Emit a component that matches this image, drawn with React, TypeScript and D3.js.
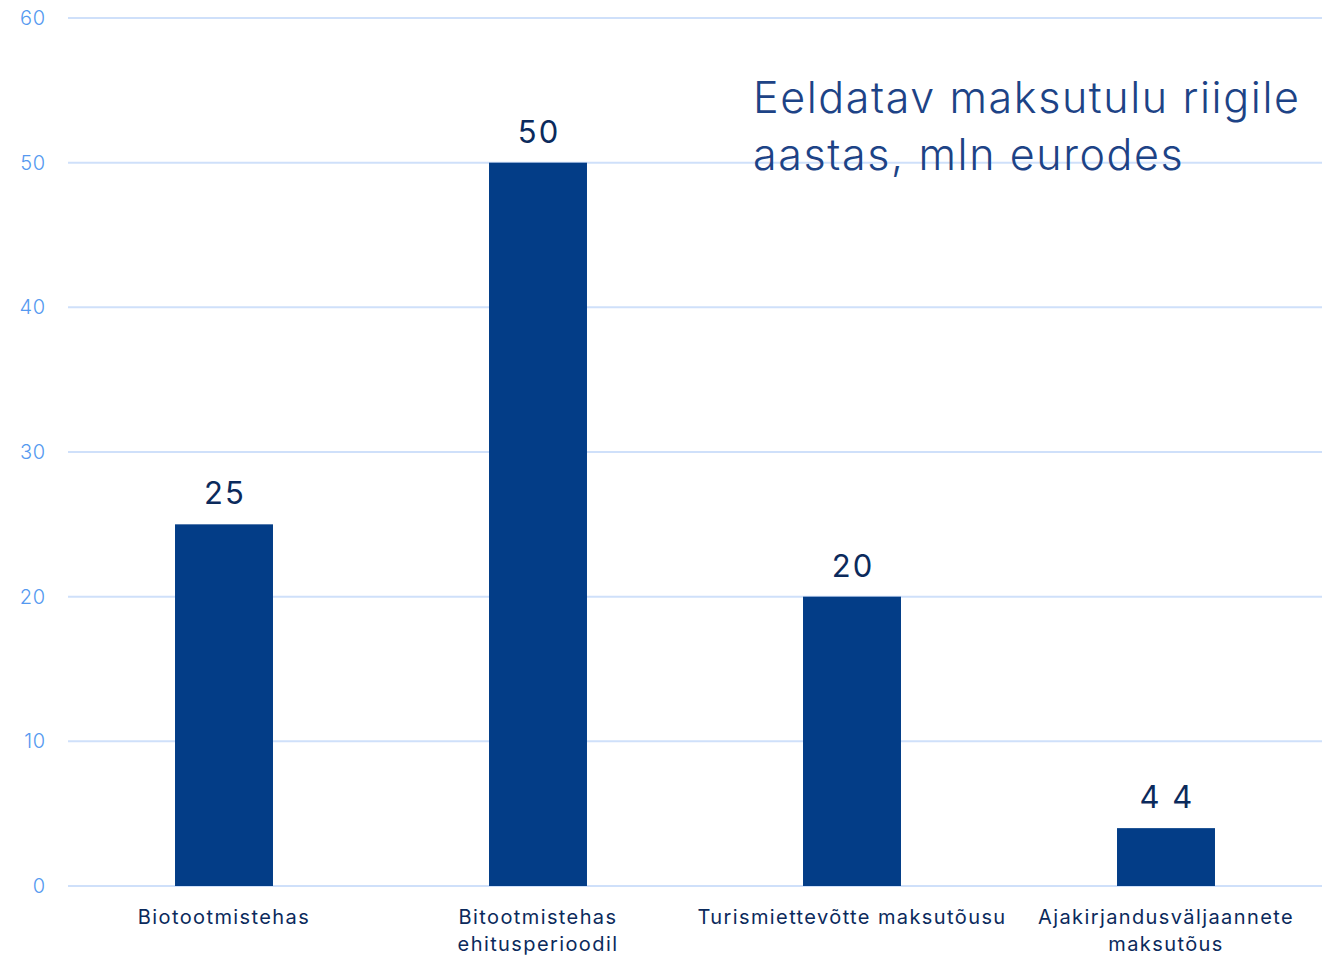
import React, { useEffect, useRef } from 'react';
import * as d3 from 'd3';

// andmed
const categories = [
  ['Biotootmistehas'],
  ['Bitootmistehas', 'ehitusperioodil'],
  ['Turismiettevõtte maksutõusu'],
  ['Ajakirjandusväljaannete', 'maksutõus'],
];
const values = [25, 50, 20, 4];
const valueLabels = ['25', '50', '20', '4 4'];
const yTicks = [0, 10, 20, 30, 40, 50, 60];
const titleLines = ['Eeldatav maksutulu riigile', 'aastas, mln eurodes'];

const W = 1327, H = 955;
const FONT = 'Inter, "Noto Sans", sans-serif';

function App() {
  const ref = useRef<SVGSVGElement>(null);

  useEffect(() => {
    const svg = d3.select(ref.current);
    svg.selectAll('*').remove();

    const x = d3.scaleBand<number>()
      .domain(d3.range(values.length))
      .range([67, 1323])
      .paddingInner(0.688)
      .paddingOuter(0.344);
    const y = d3.scaleLinear().domain([0, 60]).range([886, 18]);

    // ruudustik
    svg.append('g').selectAll('line').data(yTicks).enter().append('line')
      .attr('x1', 68).attr('x2', 1322)
      .attr('y1', d => y(d)).attr('y2', d => y(d))
      .attr('stroke', '#cfe0fa').attr('stroke-width', 2);

    svg.append('g').selectAll('text').data(yTicks).enter().append('text')
      .attr('x', 46).attr('y', d => y(d) + 7)
      .attr('text-anchor', 'end')
      .attr('font-family', FONT).attr('font-size', 20).attr('font-weight', 300)
      .attr('letter-spacing', 0.8)
      .attr('fill', '#5599f0')
      .text(d => d);

    // pealkiri
    svg.append('text')
      .attr('font-family', FONT).attr('font-size', 43).attr('font-weight', 300)
      .attr('letter-spacing', 1.6)
      .attr('fill', '#1d4386')
      .selectAll('tspan').data(titleLines).enter().append('tspan')
      .attr('x', 753).attr('y', (d, i) => 113 + i * 57)
      .text(d => d);

    // tulbad
    svg.append('g').selectAll('rect').data(values).enter().append('rect')
      .attr('x', (d, i) => x(i)!)
      .attr('width', x.bandwidth())
      .attr('y', d => y(d))
      .attr('height', d => y(0) - y(d))
      .attr('fill', '#033d87');

    svg.append('g').selectAll('text').data(values).enter().append('text')
      .attr('x', (d, i) => x(i)! + x.bandwidth() / 2 + 1)
      .attr('y', d => y(d) - 20)
      .attr('text-anchor', 'middle')
      .attr('font-family', FONT).attr('font-size', 31).attr('font-weight', 400)
      .attr('letter-spacing', 2)
      .attr('fill', '#0b2a5c')
      .text((d, i) => valueLabels[i]);

    // x-telje sildid
    const xl = svg.append('g').selectAll('text').data(categories).enter().append('text')
      .attr('text-anchor', 'middle')
      .attr('font-family', FONT).attr('font-size', 20).attr('font-weight', 400)
      .attr('letter-spacing', 1.4)
      .attr('fill', '#0b2a5c');
    xl.selectAll('tspan').data((d, i) => d.map(t => ({ t, i }))).enter().append('tspan')
      .attr('x', d => x(d.i)! + x.bandwidth() / 2)
      .attr('y', (d, j) => 924 + j * 27)
      .text(d => d.t);
  }, []);

  return (
    <svg ref={ref} width={W} height={H}
      style={{ position: 'absolute', left: 0, top: 0, background: '#fff' }} />
  );
}

export default App;
